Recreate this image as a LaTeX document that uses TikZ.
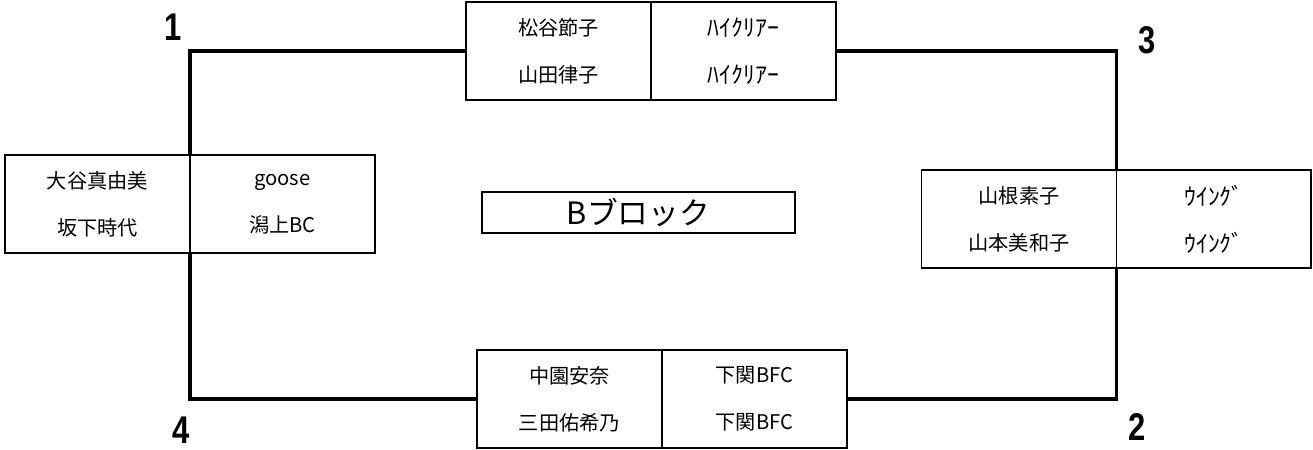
\documentclass[tikz,border=0pt]{standalone}
\usepackage{fontspec}
\setmainfont{Noto Sans CJK JP}
\newfontfamily\numfont[FakeStretch=0.8]{Liberation Sans}
\usetikzlibrary{positioning}

\begin{document}
\begin{tikzpicture}[x=0.02cm, y=-0.02cm,
    cellstyle/.style={draw, line width=1.1pt, outer sep=0pt, inner sep=0pt, minimum width=3.7cm, minimum height=1.96cm, align=center, font=\fontsize{11.5}{26.6}\selectfont},
    widecell/.style={cellstyle, minimum width=3.9cm},
    kanastyle/.style={cellstyle, font=\fontsize{13.5}{26.6}\selectfont},
    numstyle/.style={font=\numfont\bfseries\fontsize{22}{22}\selectfont, inner sep=0pt},
    bracket/.style={line width=2pt}]

	% fix the size of the page
	\useasboundingbox (0,0) rectangle (1313,450);

	% the four pairs: name cell on the left, club cell on the right
	\node[cellstyle] (tpL) at (558.5,51) {松谷節子\\山田律子};
	\node[kanastyle, right=0pt of tpL] (tpR) {ﾊｲｸﾘｱｰ\\ﾊｲｸﾘｱｰ};

	\node[cellstyle] (lfL) at (97.5,204) {大谷真由美\\坂下時代};
	\node[cellstyle, right=0pt of lfL] (lfR) {goose\\潟上BC};

	\node[widecell] (rtL) at (1019,219) {山根素子\\山本美和子};
	\node[kanastyle, widecell, font=\fontsize{13.5}{26.6}\selectfont, right=0pt of rtL] (rtR) {ｳｲﾝｸﾞ\\ｳｲﾝｸﾞ};

	\node[cellstyle] (btL) at (569.5,399) {中園安奈\\三田佑希乃};
	\node[cellstyle, right=0pt of btL] (btR) {下関BFC\\下関BFC};

	% block title in the middle
	\node[draw, line width=0.8pt, minimum width=6.26cm, minimum height=0.82cm, inner sep=0pt, font=\fontsize{17.5}{17.5}\selectfont] (title) at (638.5,212.5) {Bブロック};

	% the lines of the round
	\draw[bracket] (tpL.west) -| (lfL.north east);
	\draw[bracket] (lfL.south east) |- (btL.west);
	\draw[bracket] (btR.east) -| (rtL.south east);
	\draw[bracket] (rtL.north east) |- (tpR.east);

	% the numbers at the corners
	\node[numstyle] (n1) at (173,27) {1};
	\node[numstyle] (n3) at (1147,40) {3};
	\node[numstyle] (n2) at (1137,427) {2};
	\node[numstyle] (n4) at (181,430) {4};

\end{tikzpicture}
\end{document}
